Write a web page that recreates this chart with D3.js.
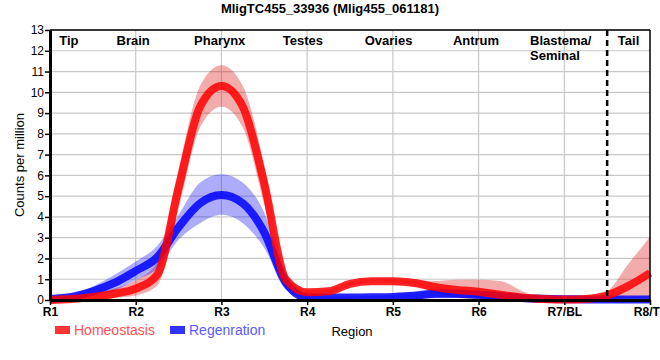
<!DOCTYPE html>
<html><head><meta charset="utf-8">
<script src="https://cdn.jsdelivr.net/npm/d3@7"></script>
<style>
body{margin:0;background:#fff;}
svg{font-family:"Liberation Sans",Arial,sans-serif;display:block;}
</style></head>
<body>
<svg id="chart" width="660" height="360"></svg>
<script>
// ---- data ----
const xTickLabels = ["R1","R2","R3","R4","R5","R6","R7/BL","R8/TL"];
const yTicks = [0,1,2,3,4,5,6,7,8,9,10,11,12,13];
const samplePos = [0,0.25,0.5,0.75,1,1.25,1.5,1.75,2,2.25,2.5,2.75,3,3.25,3.5,3.75,4,4.25,4.5,4.75,5,5.25,5.5,5.75,6,6.25,6.5,6.75,7];
const homMean = [0.0,0.05,0.15,0.3,0.55,1.2,5.4,9.3,10.3,9.3,5.6,1.0,0.37,0.42,0.78,0.9,0.9,0.82,0.62,0.48,0.4,0.25,0.12,0.05,0.02,0.05,0.22,0.68,1.3];
const homHi   = [0.1,0.12,0.3,0.55,0.95,1.8,6.3,10.3,11.3,10.3,6.5,1.3,0.47,0.52,0.86,0.97,0.98,0.95,0.92,0.98,0.98,0.92,0.45,0.1,0.05,0.1,0.42,1.75,3.05];
const homLo   = [-0.1,-0.05,0.02,0.1,0.22,0.7,4.4,8.3,9.3,8.3,4.6,0.75,0.27,0.32,0.7,0.83,0.82,0.7,0.35,0.1,0.05,0.02,0,0,0,0,0.05,0.1,0.1];
const regMean = [0.05,0.15,0.42,0.82,1.4,2.05,3.5,4.65,5.05,4.65,3.25,0.85,0.12,0.12,0.12,0.13,0.15,0.2,0.3,0.3,0.25,0.18,0.1,0.06,0.04,0.03,0.02,0.02,0.02];
const regHi   = [0.12,0.25,0.65,1.2,1.85,2.6,4.1,5.65,6.05,5.65,4.2,1.2,0.2,0.18,0.18,0.2,0.25,0.4,0.55,0.52,0.45,0.38,0.28,0.14,0.08,0.06,0.05,0.04,0.04];
const regLo   = [-0.02,0.05,0.2,0.45,0.96,1.5,2.9,3.7,4.1,3.7,2.5,0.5,0.05,0.06,0.06,0.07,0.07,0.05,0.08,0.1,0.08,0.05,0,0,0,0,0,0,0];
const regionNames = ["Tip","Brain","Pharynx","Testes","Ovaries","Antrum","Blastema/|Seminal","Tail"];
const regionPos   = [0.22,0.97,1.98,2.95,3.95,4.97,5.6,6.75];
const seriesNames = ["Homeostasis","Regenration"];

// ---- layout ----
const svg = d3.select("#chart");
const L=50, R=650, T=30, B=300;
const x = d3.scaleLinear().domain([0,7]).range([L,R]);
const y = d3.scaleLinear().domain([0,13]).range([B,T]);

// grid
const g = svg.append("g");
g.selectAll(".hg").data(yTicks.slice(1)).enter().append("line")
  .attr("x1",L).attr("x2",R).attr("y1",d=>y(d)).attr("y2",d=>y(d))
  .attr("stroke","#c8c8c8").attr("stroke-width",1.2);
g.selectAll(".vg").data(d3.range(1,7)).enter().append("line")
  .attr("x1",d=>x(d)).attr("x2",d=>x(d)).attr("y1",T).attr("y2",B)
  .attr("stroke","#c8c8c8").attr("stroke-width",1.2);

// bands & lines
const pts = (lo,hi)=>samplePos.map((p,i)=>({p,lo:lo[i],hi:hi[i]}));
const area = d3.area().x(d=>x(d.p)).y0(d=>y(d.lo)).y1(d=>y(d.hi)).curve(d3.curveMonotoneX);
const line = d3.line().x(d=>x(d.p)).y(d=>y(d.v)).curve(d3.curveMonotoneX);
const lpts = m=>samplePos.map((p,i)=>({p,v:m[i]}));

svg.append("path").attr("d",area(pts(homLo,homHi))).attr("fill","rgb(220,25,25)").attr("fill-opacity",0.36);
svg.append("path").attr("d",area(pts(regLo,regHi))).attr("fill","rgb(25,25,240)").attr("fill-opacity",0.36);
svg.append("path").attr("d",line(lpts(regMean))).attr("fill","none").attr("stroke","#0000ff").attr("stroke-opacity",0.85).attr("stroke-width",8);
svg.append("path").attr("d",line(lpts(homMean))).attr("fill","none").attr("stroke","#ff0000").attr("stroke-opacity",0.85).attr("stroke-width",8);

// dashed separator
svg.append("line").attr("x1",x(6.5)).attr("x2",x(6.5)).attr("y1",T).attr("y2",B)
  .attr("stroke","#000").attr("stroke-width",2.5).attr("stroke-dasharray","6,4");

// frame
svg.append("line").attr("x1",L).attr("x2",R).attr("y1",T).attr("y2",T).attr("stroke","#000").attr("stroke-width",1.5);
svg.append("line").attr("x1",R).attr("x2",R).attr("y1",T).attr("y2",B).attr("stroke","#000").attr("stroke-width",1.5);

// axes
const yAxis = d3.axisLeft(y).tickValues(yTicks).tickSize(5).tickSizeOuter(0);
const ya = svg.append("g").attr("transform",`translate(${L},0)`).call(yAxis);
ya.select(".domain").attr("stroke-width",3);
ya.selectAll("text").attr("font-size",12).attr("fill","#000").attr("x",-6).attr("font-family","Liberation Sans, Arial, sans-serif");
ya.selectAll(".tick line").attr("stroke-width",1.5);

const xAxis = d3.axisBottom(x).tickValues(d3.range(0,8)).tickFormat(i=>xTickLabels[i]).tickSize(5).tickSizeOuter(0);
const xa = svg.append("g").attr("transform",`translate(0,${B})`).call(xAxis);
xa.select(".domain").attr("stroke-width",3);
xa.selectAll("text").attr("font-size",12).attr("font-weight","bold").attr("fill","#000").attr("y",7).attr("font-family","Liberation Sans, Arial, sans-serif");
xa.selectAll(".tick line").attr("stroke-width",1.5);

// region labels
regionNames.forEach((n,i)=>{
  const parts = n.split("|");
  const t = svg.append("text").attr("font-size",13).attr("font-weight","bold").attr("fill","#000");
  if(parts.length>1){
    t.attr("text-anchor","start");
    parts.forEach((s,j)=>t.append("tspan").attr("x",x(regionPos[i])).attr("y",45+j*14.5).text(s));
  } else {
    t.attr("text-anchor","middle").attr("x",x(regionPos[i])).attr("y",45).text(n);
  }
});

// title
svg.append("text").attr("x",330).attr("y",13).attr("text-anchor","middle")
  .attr("font-size",13).attr("font-weight","bold").text("MligTC455_33936 (Mlig455_061181)");

// y label
svg.append("text").attr("transform","translate(24,165) rotate(-90)").attr("text-anchor","middle")
  .attr("font-size",13).text("Counts per million");

// x label
svg.append("text").attr("x",352).attr("y",336).attr("text-anchor","middle").attr("font-size",13).text("Region");

// legend
const legColors = ["#ff3333","#3333ff"], legText=["#ff5050","#5a5aff"], legX=[55,170];
seriesNames.forEach((n,i)=>{
  svg.append("rect").attr("x",legX[i]).attr("y",326).attr("width",15).attr("height",8).attr("fill",legColors[i]);
  svg.append("text").attr("x",legX[i]+19).attr("y",335).attr("font-size",14).attr("fill",legText[i]).text(n);
});
</script>
</body></html>
